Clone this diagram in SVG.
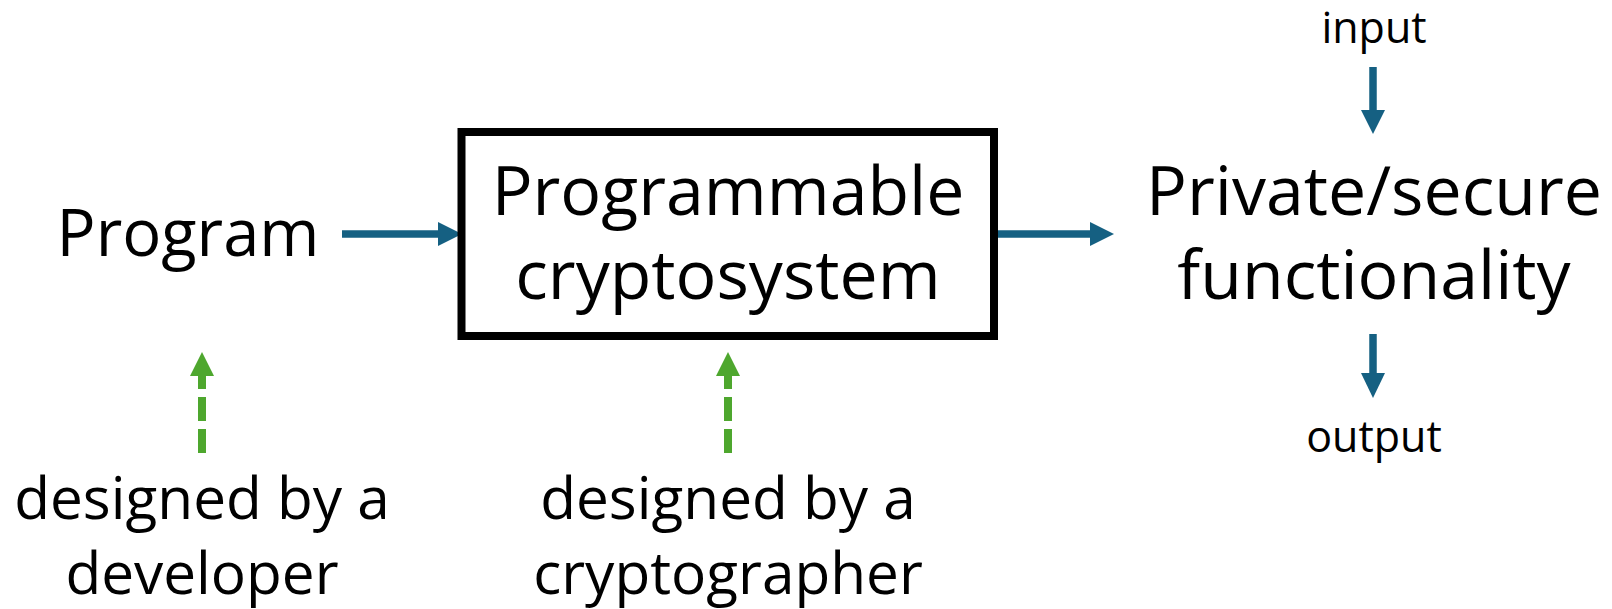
<svg xmlns="http://www.w3.org/2000/svg" width="1612" height="609" viewBox="0 0 1612 609">
<style>
text{font-family:"Open Sans","Noto Sans",sans-serif;fill:#000;text-anchor:middle}
.big{font-size:68px}
.prog{font-size:65px}
.lbl{font-size:58.5px}
.io{font-size:43px}
.blue{stroke:#156082;stroke-width:7.5;fill:none}
.bh{fill:#156082}
.green{stroke:#4ea72e;stroke-width:8;fill:none;stroke-dasharray:24 8}
.gh{fill:#4ea72e}
</style>
<g id="connectors">
<path class="blue" d="M342,234 H440"/>
<path class="bh" d="M438,222 L462,234 L438,246 Z"/>
<path class="blue" d="M993,234 H1092"/>
<path class="bh" d="M1090,222 L1114,234 L1090,246 Z"/>
<path class="blue" d="M1373,67 V112"/>
<path class="bh" d="M1361,110 L1373,134 L1385,110 Z"/>
<path class="blue" d="M1373,334 V375"/>
<path class="bh" d="M1361,373 L1373,398 L1385,373 Z"/>
<path class="green" d="M202,453 V374"/>
<path class="gh" d="M190,376 L202,352 L214,376 Z"/>
<path class="green" d="M728,453 V374"/>
<path class="gh" d="M716,376 L728,352 L740,376 Z"/>
</g>
<g id="program"><text class="prog" x="188" y="256">Program</text></g>
<g id="cryptosystem">
<rect x="461.5" y="132" width="532.5" height="204" fill="#fff" stroke="#000" stroke-width="8"/>
<text class="big" x="728" y="215">Programmable</text>
<text class="big" x="728" y="299">cryptosystem</text>
</g>
<g id="functionality">
<text class="big" x="1374" y="215">Private/secure</text>
<text class="big" x="1374" y="299">functionality</text>
</g>
<g id="input"><text class="io" x="1374" y="43">input</text></g>
<g id="output"><text class="io" x="1374" y="452">output</text></g>
<g id="developer">
<text class="lbl" x="202" y="519">designed by a</text>
<text class="lbl" x="202" y="594">developer</text>
</g>
<g id="cryptographer">
<text class="lbl" x="728" y="519">designed by a</text>
<text class="lbl" x="728" y="594">cryptographer</text>
</g>
</svg>
